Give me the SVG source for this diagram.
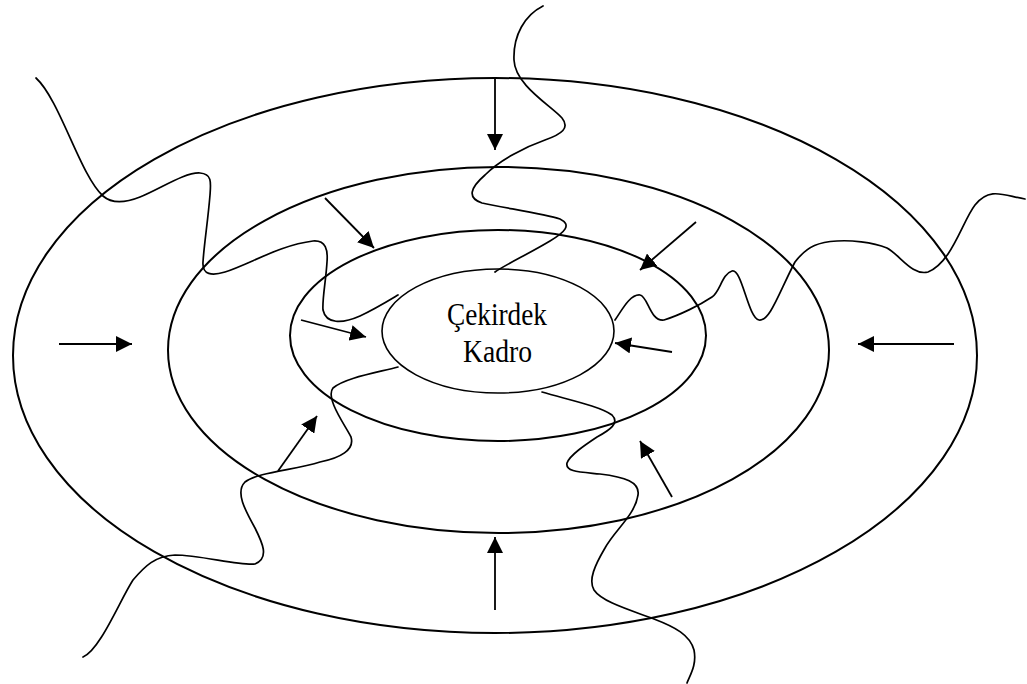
<svg xmlns="http://www.w3.org/2000/svg" width="1027" height="684" viewBox="0 0 1027 684">
<style>
.ring{fill:none;stroke:#000;stroke-width:2}
.wave{fill:none;stroke:#000;stroke-width:1.7;stroke-linecap:round}
.arr{fill:none;stroke:#000;stroke-width:1.8;marker-end:url(#ah)}
.lbl{font-family:"Liberation Serif","Times New Roman",serif;font-size:32px;fill:#000;text-anchor:middle}
</style>
<defs>
<marker id="ah" viewBox="0 0 16 16" refX="16" refY="8" markerWidth="16" markerHeight="16" markerUnits="userSpaceOnUse" orient="auto">
<path d="M0,0 L16,8 L0,16 z" fill="#000"/>
</marker>
</defs>
<rect width="1027" height="684" fill="#fff"/>
<g id="ring-outer"><ellipse class="ring" cx="495" cy="355.5" rx="482" ry="277.5"/></g>
<g id="ring-middle"><ellipse class="ring" cx="498.5" cy="350" rx="330.5" ry="183"/></g>
<g id="ring-inner"><ellipse class="ring" cx="498" cy="335.5" rx="208" ry="105.5"/></g>
<g id="core">
<ellipse class="ring" cx="498" cy="331" rx="116" ry="62" style="stroke-width:1.6"/>
<text class="lbl" x="497" y="325" textLength="100" lengthAdjust="spacingAndGlyphs">Çekirdek</text>
<text class="lbl" x="497.5" y="362" textLength="69" lengthAdjust="spacingAndGlyphs">Kadro</text>
</g>
<g id="waves">
<path class="wave" d="M36,78 C60,100 80,175 103,196 C112,204 125,203 140,197 C160,189 185,172 200,173 C212,174 211,182 210,195 C208,220 204,245 203,262 C202,275 212,276 225,272 C250,264 280,245 313,241 C326,240 328,250 327,262 C326,280 322,300 323,310 C326,324 342,324 360,316 C375,309 388,301 398,295"/>
<path class="wave" d="M543,6 C525,15 513,35 514,60 C515,85 550,105 562,118 C570,128 562,134 545,140 C525,147 500,160 485,175 C470,188 467,198 482,203 C505,208 545,214 560,219 C572,225 565,232 550,241 C530,253 505,265 495,272"/>
<path class="wave" d="M1025,199 C1005,196 990,186 975,205 C962,222 952,262 928,272 C912,276 900,255 887,248 C872,242 850,240 837,241 C820,242 808,245 795,262 C780,290 770,322 759,320 C748,318 742,268 732,271 C722,274 720,292 712,297 C700,305 680,315 664,320 C650,322 648,296 640,295 C630,294 622,310 615,320"/>
<path class="wave" d="M542,392 C565,399 600,406 612,415 C620,423 610,430 597,437 C585,445 570,455 567,463 C565,472 580,472 600,474 C625,477 640,482 638,495 C635,515 615,530 605,548 C595,565 588,580 594,590 C602,602 630,610 654,619 C675,627 690,635 694,650 C697,665 690,675 687,683"/>
<path class="wave" d="M398,367 C375,373 345,378 333,388 C325,398 345,425 351,437 C355,450 340,458 320,462 C295,470 258,472 245,482 C235,492 245,510 255,528 C262,542 270,558 255,564 C240,566 200,555 175,555 C155,556 145,566 133,580 C120,600 100,650 83,657"/>
</g>
<g id="connectors">
<line class="arr" x1="495" y1="78" x2="495" y2="150"/>
<line class="arr" x1="325" y1="198" x2="374" y2="248"/>
<line class="arr" x1="301" y1="320" x2="366" y2="337"/>
<line class="arr" x1="59" y1="344" x2="132" y2="344"/>
<line class="arr" x1="696" y1="222" x2="640" y2="270"/>
<line class="arr" x1="672" y1="352" x2="615" y2="343"/>
<line class="arr" x1="954" y1="344" x2="858" y2="344"/>
<line class="arr" x1="672" y1="497" x2="640" y2="441"/>
<line class="arr" x1="495" y1="610" x2="495" y2="537"/>
<line class="arr" x1="278" y1="471" x2="317" y2="416"/>
</g>
</svg>
